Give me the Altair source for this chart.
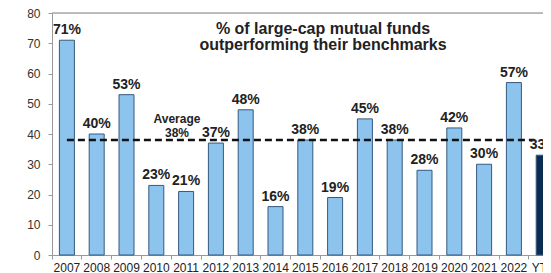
import altair as alt
import pandas as pd

categories = ["2007", "2008", "2009", "2010", "2011", "2012", "2013", "2014", "2015",
              "2016", "2017", "2018", "2019", "2020", "2021", "2022", "YTD"]
values = [71, 40, 53, 23, 21, 37, 48, 16, 38, 19, 45, 38, 28, 42, 30, 57, 33]
labels = [f"{v}%" for v in values]
kinds = ["year"] * 16 + ["ytd"]
average = 38
title_lines = ["% of large-cap mutual funds", "outperforming their benchmarks"]
avg_lines = ["Average", "38%"]
y_ticks = [0, 10, 20, 30, 40, 50, 60, 70, 80]

df = pd.DataFrame({"cat": categories, "val": values, "label": labels, "kind": kinds})
avg_df = pd.DataFrame({"start": [categories[0]], "end": [categories[-1]], "val": [average]})
title_df = pd.DataFrame({"t": ["\n".join(title_lines)]})
avg_text_df = pd.DataFrame({"t": ["\n".join(avg_lines)]})

FONT = "Liberation Sans"
step = 29.8
RANGE = step * len(categories)
W = 491
H = 242

x_scale = alt.Scale(paddingInner=0, paddingOuter=0, range=[0, RANGE])
x_axis = alt.Axis(labelAngle=0, labelFont=FONT, labelFontSize=12, labelColor="#222",
                  labelPadding=3, domainColor="#999", tickColor="#999", tickSize=4,
                  bandPosition=0, grid=False, labelOverlap=False)
y_scale = alt.Scale(domain=[0, 80], nice=False)
y_axis = alt.Axis(values=y_ticks, labelFont=FONT, labelFontSize=12,
                  labelColor="#333", domainColor="#999", tickColor="#999", tickSize=4,
                  labelPadding=8, grid=False, labelOverlap=False, tickCount=9)

x = alt.X("cat:N", sort=categories, title=None, scale=x_scale, axis=x_axis)
y = alt.Y("val:Q", title=None, scale=y_scale, axis=y_axis)

bars = alt.Chart(df).mark_bar(size=15, stroke="#35597F", strokeWidth=1).encode(
    x=x, y=y,
    color=alt.Color("kind:N", scale=alt.Scale(domain=["year", "ytd"], range=["#8DC4EE", "#0B2D52"]),
                    legend=None)
)

text = alt.Chart(df).mark_text(font=FONT, fontSize=14, fontWeight="bold", color="#222",
                               baseline="bottom", dy=-3).encode(
    x=x, y=y, text="label:N"
)

rule = alt.Chart(avg_df).mark_rule(color="#111", strokeWidth=2.5, strokeDash=[7, 4], x2Offset=-9).encode(
    x=alt.X("start:N", sort=categories, title=None, scale=x_scale, axis=x_axis), x2="end:N", y=y
)

top_border = alt.Chart(avg_df).mark_rule(color="#aaa", strokeWidth=1.5).encode(
    x=alt.value(0), x2=alt.value(RANGE), y=alt.value(0)
)

title = alt.Chart(title_df).mark_text(font=FONT, fontSize=16, fontWeight="bold", color="#222",
                                      align="center", baseline="middle", lineBreak="\n",
                                      lineHeight=16).encode(
    x=alt.value(271), y=alt.value(16), text="t:N"
)

avg_text = alt.Chart(avg_text_df).mark_text(font=FONT, fontSize=12, fontWeight="bold", color="#222",
                                            align="center", baseline="middle", lineBreak="\n",
                                            lineHeight=14).encode(
    x=alt.value(125), y=alt.value(106), text="t:N"
)

chart = alt.layer(bars, rule, text, top_border, title, avg_text).properties(
    width=W, height=H,
    padding={"left": 44, "top": 5, "right": 0, "bottom": 18},
    autosize=alt.AutoSizeParams(type="none"),
).configure_view(stroke=None).configure(background="white")

chart.save("out.html", embed_options={"renderer": "svg", "actions": False})
